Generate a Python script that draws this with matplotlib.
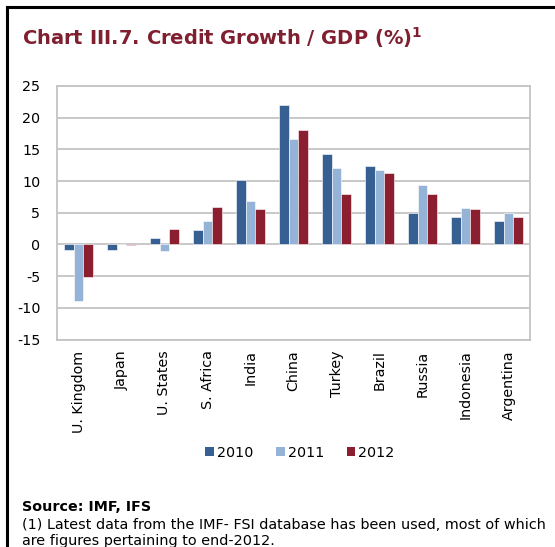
import matplotlib
matplotlib.use("Agg")
import matplotlib.pyplot as plt
import numpy as np
from matplotlib.lines import Line2D
from matplotlib.patches import Patch

plt.rcParams["axes.unicode_minus"] = False

W, H = 555, 547
DPI = 100

countries = ["U. Kingdom", "Japan", "U. States", "S. Africa", "India", "China",
             "Turkey", "Brazil", "Russia", "Indonesia", "Argentina"]
years = ["2010", "2011", "2012"]
v2010 = [-0.8, -0.9, 1.0, 2.3, 10.2, 22.0, 14.3, 12.4, 4.9, 4.3, 3.7]
v2011 = [-9.0, 0.0, -1.05, 3.7, 6.8, 16.7, 12.1, 11.8, 9.4, 5.7, 4.9]
v2012 = [-5.1, -0.15, 2.4, 5.9, 5.6, 18.0, 7.9, 11.3, 8.0, 5.6, 4.3]
colors = ["#376092", "#95B3D7", "#8B1F2F"]

TITLE_RED = "#7F1F2F"
GRID = "#C4C4C4"


def px(x, y):
    """Pixel position (from top-left) to figure fraction."""
    return x / W, 1 - y / H


fig = plt.figure(figsize=(W / DPI, H / DPI), dpi=DPI)
fig.patch.set_facecolor("white")

# outer frame, only left and top edges are inside the picture
fig.add_artist(Line2D([6.5 / W, 6.5 / W], [0, 1 - 6.5 / H], transform=fig.transFigure,
                      color="black", lw=2.2))
fig.add_artist(Line2D([6.5 / W, 1], [1 - 6.5 / H, 1 - 6.5 / H], transform=fig.transFigure,
                      color="black", lw=2.2))

# title
tx, ty = px(22, 45)
fig.text(tx, ty, "Chart III.7. Credit Growth / GDP (%)$^{\\mathbf{1}}$", color=TITLE_RED,
         fontsize=14, fontweight="bold", ha="left", va="baseline")

left, top, right, bottom = 57, 86, 530, 339.5
ax = fig.add_axes([left / W, 1 - bottom / H, (right - left) / W, (bottom - top) / H])

x = np.arange(len(countries))
bw = 0.23
for i, (vals, c, yr) in enumerate(zip([v2010, v2011, v2012], colors, years)):
    ax.bar(x + (i - 1) * bw, vals, bw, color=c, edgecolor="white", linewidth=0.4,
           label=yr, zorder=3)

ax.set_ylim(-15, 25)
ax.set_xlim(-0.5, len(countries) - 0.5)
ax.set_yticks(range(-15, 26, 5))
ax.yaxis.grid(True, color=GRID, lw=1.3, zorder=0)
ax.set_axisbelow(True)
for s in ax.spines.values():
    s.set_color(GRID)
    s.set_linewidth(1.3)
ax.tick_params(axis="y", length=0, pad=12, labelsize=10.3)
ax.set_xticks(x)
ax.set_xticklabels(countries, rotation=90, fontsize=10.3, va="top")
ax.tick_params(axis="x", length=0, pad=8)

handles = [Patch(facecolor=c) for c in colors]
lx, ly = px(300, 453)
fig.legend(handles, years, loc="center", bbox_to_anchor=(lx, ly), ncol=3, frameon=False,
           fontsize=10.3, handlelength=0.6, handleheight=0.6, handletextpad=0.2,
           columnspacing=1.6)

sx, sy = px(22, 511)
fig.text(sx, sy, "Source: IMF, IFS", fontsize=10.3, fontweight="bold", ha="left",
         va="baseline")
fx, fy = px(22, 529)
fig.text(fx, fy, "(1) Latest data from the IMF- FSI database has been used, most of which",
         fontsize=10.4, ha="left", va="baseline")
fx2, fy2 = px(22, 545)
fig.text(fx2, fy2, "are figures pertaining to end-2012.", fontsize=10.4, ha="left",
         va="baseline")

fig.savefig("out.png", dpi=DPI)
